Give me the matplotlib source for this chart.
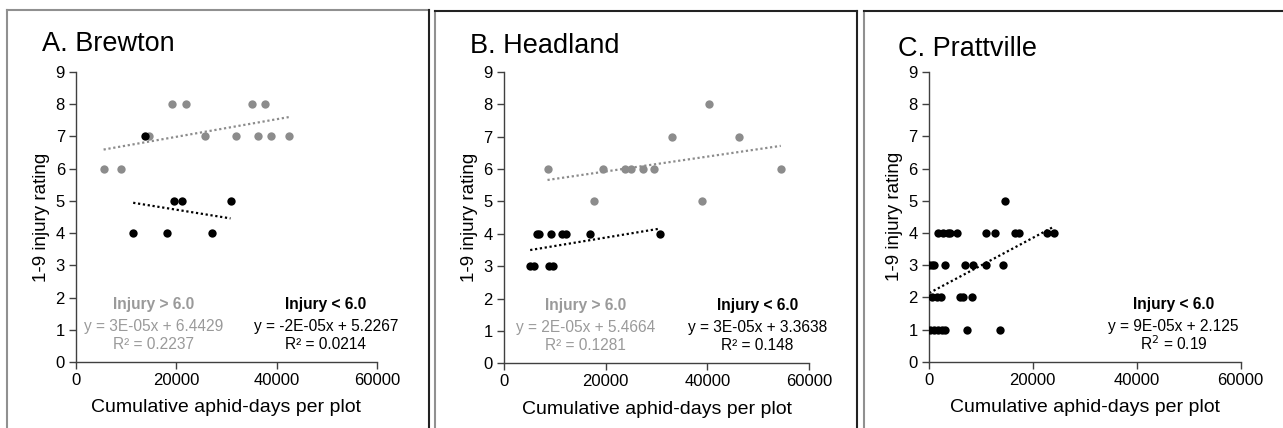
import numpy as np
import matplotlib
matplotlib.use("Agg")
import matplotlib.pyplot as plt
from matplotlib.lines import Line2D

plt.rcParams['font.family'] = ['Liberation Sans', 'DejaVu Sans']

# Brewton
brewton_hi_x = [5500, 9000, 14500, 19100, 21900, 25700, 31800, 35000, 36300, 37700, 38900, 42400]
brewton_hi_y = [6, 6, 7, 8, 8, 7, 7, 8, 7, 8, 7, 7]
brewton_lo_x = [11400, 13800, 18100, 19500, 21100, 27100, 30800]
brewton_lo_y = [4, 7, 4, 5, 5, 4, 5]

# Headland
headland_hi_x = [8600, 17700, 19500, 23900, 25000, 27400, 29600, 33000, 38900, 40300, 46100, 54400]
headland_hi_y = [6, 5, 6, 6, 6, 6, 6, 7, 5, 8, 7, 6]
headland_lo_x = [5200, 5900, 6500, 6900, 8800, 9200, 9600, 11500, 12200, 16900, 30600]
headland_lo_y = [3, 3, 4, 4, 3, 4, 3, 4, 4, 4, 4]

# Prattville
prattville_x = [300, 1100, 1800, 2500, 3200, 7300, 13800,
                700, 1500, 2300, 6000, 6500, 8300,
                100, 700, 1100, 3200, 7000, 8500, 11100, 14200,
                1800, 2800, 3700, 4100, 5500, 11000, 12700, 16600, 17300, 22800, 24100,
                14700]
prattville_y = [1] * 7 + [2] * 6 + [3] * 8 + [4] * 11 + [5]

# trend lines (slope, intercept from the printed equation)
hi_slope = [2.73e-5, 2.3e-5, None]
hi_icept = [6.4429, 5.4664, None]
lo_slope = [-2.5e-5, 2.6e-5, 8.6e-5]
lo_icept = [5.2267, 3.3638, 2.125]

titles = ["A. Brewton", "B. Headland", "C. Prattville"]
hi_labels = [["Injury > 6.0", "y = 3E-05x + 6.4429", "R² = 0.2237"],
             ["Injury > 6.0", "y = 2E-05x + 5.4664", "R² = 0.1281"],
             None]
lo_labels = [["Injury < 6.0", "y = -2E-05x + 5.2267", "R² = 0.0214"],
             ["Injury < 6.0", "y = 3E-05x + 3.3638", "R² = 0.148"],
             ["Injury < 6.0", "y = 9E-05x + 2.125", "R$^2$ = 0.19"]]

GRAY = '#8c8c8c'
TXTGRAY = '#9a9a9a'

W, H = 1283, 428
fig = plt.figure(figsize=(W / 100, H / 100), dpi=100)

# axes rectangles in pixels: left, right, y(top=9), y(bottom=0)
boxes = [(76, 377, 72, 362), (503.7, 809.3, 72, 363.3), (928.7, 1240.7, 72, 361.7)]
title_pos = [(42, 50.7), (470, 53.3), (898, 56)]


def px_axes(l, r, t, b):
    return fig.add_axes([l / W, (H - b) / H, (r - l) / W, (b - t) / H])


def trend(ax, x, m, c, color):
    xs = np.array([min(x), max(x)], float)
    ax.plot(xs, m * xs + c, linestyle=(0, (1, 1.2)), color=color, lw=1.6, zorder=2)


data = [(brewton_hi_x, brewton_hi_y, brewton_lo_x, brewton_lo_y),
        (headland_hi_x, headland_hi_y, headland_lo_x, headland_lo_y),
        (None, None, prattville_x, prattville_y)]

for i, (l, r, t, b) in enumerate(boxes):
    ax = px_axes(l, r, t, b)
    hx, hy, lx, ly = data[i]
    if hx is not None:
        ax.scatter(hx, hy, s=36, color=GRAY, zorder=3, linewidths=0)
        trend(ax, hx, hi_slope[i], hi_icept[i], GRAY)
    ax.scatter(lx, ly, s=36, color='black', zorder=4, linewidths=0)
    trend(ax, lx, lo_slope[i], lo_icept[i], 'black')

    ax.set_xlim(0, 60000)
    ax.set_ylim(0, 9)
    ax.set_xticks([0, 20000, 40000, 60000])
    ax.set_yticks(range(10))
    for s in ['top', 'right']:
        ax.spines[s].set_visible(False)
    for s in ['left', 'bottom']:
        ax.spines[s].set_color('#404040')
        ax.spines[s].set_linewidth(1)
    ax.tick_params(direction='out', length=5, width=1, color='#404040',
                   labelsize=12, pad=3)
    ax.set_xlabel("Cumulative aphid-days per plot", fontsize=14, labelpad=8)
    ax.set_ylabel("1-9 injury rating", fontsize=13.5, labelpad=4)
    fig.text(title_pos[i][0] / W, 1 - title_pos[i][1] / H, titles[i],
             fontsize=19.5, ha='left', va='baseline')

    ys = [1.78, 1.1, 0.55]
    if hi_labels[i] is not None:
        for j, s in enumerate(hi_labels[i]):
            ax.text(15500 if i == 0 else 16000, ys[j], s, ha='center', va='center',
                    fontsize=11.2, color=TXTGRAY,
                    fontweight='bold' if j == 0 else 'normal', zorder=1)
    for j, s in enumerate(lo_labels[i]):
        ax.text(49800 if i < 2 else 47100, ys[j], s, ha='center', va='center',
                fontsize=11.2, color='black',
                fontweight='bold' if j == 0 else 'normal')

# panel frames
frame_lines = [
    ([7, 7], [428, 10], '#909090'), ([7, 429], [10, 10], '#909090'), ([429, 429], [10, 428], '#222222'),
    ([435, 435], [428, 11], '#909090'), ([435, 857], [11, 11], '#222222'), ([857, 857], [11, 428], '#222222'),
    ([864, 864], [428, 11], '#909090'), ([864, 1283], [11, 11], '#222222'),
]
for xs, ys, c in frame_lines:
    fig.add_artist(Line2D([x / W for x in xs], [1 - y / H for y in ys], color=c, lw=1.5,
                          transform=fig.transFigure))

fig.savefig("out.png", dpi=100)
